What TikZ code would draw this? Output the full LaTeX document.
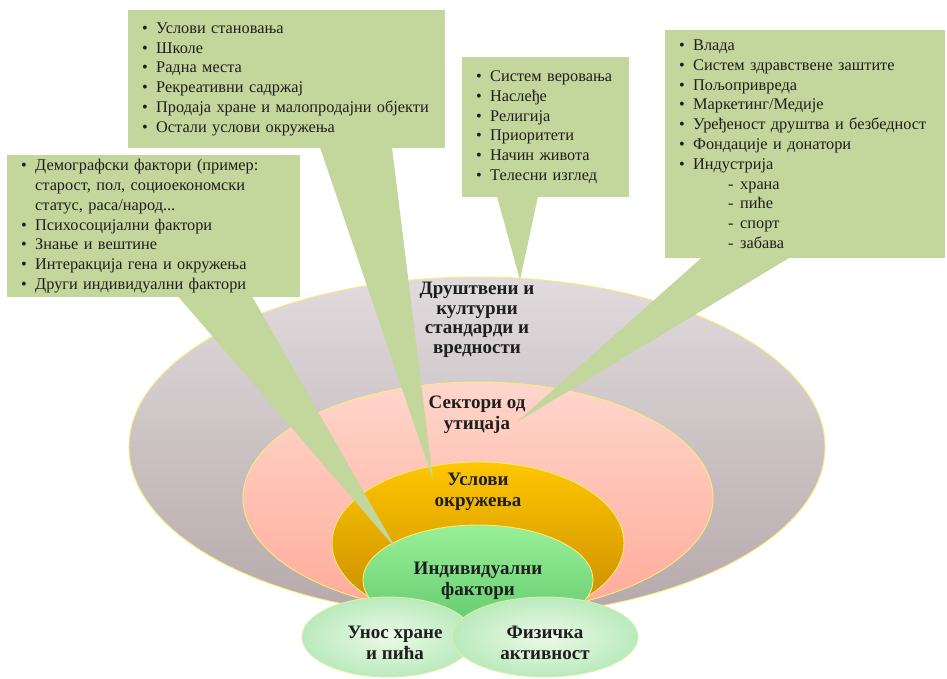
\documentclass[tikz,border=0pt]{standalone}
\usepackage{fontspec}
\setmainfont{Liberation Serif}
\usetikzlibrary{calc,shapes.geometric}

\definecolor{callgreen}{RGB}{195,214,155}
\definecolor{rimyellow}{RGB}{250,236,120}
\definecolor{grayTop}{RGB}{224,219,221}
\definecolor{grayBot}{RGB}{182,168,170}
\definecolor{pinkTop}{RGB}{255,214,204}
\definecolor{pinkBot}{RGB}{255,170,152}
\definecolor{orTop}{RGB}{255,198,0}
\definecolor{orBot}{RGB}{196,136,0}
\definecolor{grTop}{RGB}{152,240,152}
\definecolor{grBot}{RGB}{96,200,106}
\definecolor{mintIn}{RGB}{236,250,232}
\definecolor{mintOut}{RGB}{186,234,188}
\definecolor{mintRim}{RGB}{215,240,170}
\definecolor{inktext}{RGB}{30,30,30}

\newcommand{\bul}[1]{\makebox[14pt][l]{\textbullet}#1}
\newcommand{\cont}[1]{\hspace*{14pt}#1}
\newcommand{\sub}[1]{\hspace*{49pt}\makebox[12pt][l]{-}#1}

\begin{document}
\begin{tikzpicture}[x=1pt,y=-1pt,
  ring/.style={ellipse, inner sep=0pt, draw=rimyellow, line width=0.9pt},
  outcome/.style={ellipse, inner sep=0pt, draw=mintRim, line width=0.9pt,
    shading=radial, inner color=mintIn, outer color=mintOut},
  ringlabel/.style={align=center, text=inktext,
    font=\fontsize{19}{21.5}\selectfont\bfseries},
  callbox/.style={rectangle, fill=callgreen, anchor=north west, align=left,
    inner xsep=14pt, inner ysep=0pt, text=inktext,
    font=\fontsize{16.3}{19.8}\selectfont},
  tail/.style={fill=callgreen}
]
\useasboundingbox (0,0) rectangle (947,679);
\fill[white] (0,0) rectangle (947,679);

% nested rings of influence
\node[ring, minimum width=696pt, minimum height=340pt,
  top color=grayTop, bottom color=grayBot] (soc) at (477,447) {};
\node[ring, minimum width=470pt, minimum height=232pt,
  top color=pinkTop, bottom color=pinkBot] (sect) at (478,498) {};
\node[ring, minimum width=292pt, minimum height=162pt,
  top color=orTop, bottom color=orBot] (env) at (478,543) {};
\node[ring, minimum width=230pt, minimum height=110pt,
  top color=grTop, bottom color=grBot] (ind) at (478,580) {};

% behaviours at the base
\node[outcome, minimum width=172pt, minimum height=80pt] (food) at (388,637) {};
\node[outcome, minimum width=186pt, minimum height=80pt] (phys) at (545,637) {};

% callout boxes
\node[callbox, minimum width=293pt, minimum height=142pt, text width=265pt] (b1) at (7,155) {%
\bul{Демографски фактори (пример:}\\
\cont{старост, пол, социоекономски}\\
\cont{статус, раса/народ...}\\
\bul{Психосоцијални фактори}\\
\bul{Знање и вештине}\\
\bul{Интеракција гена и окружења}\\
\bul{Други индивидуални фактори}};

\node[callbox, minimum width=317pt, minimum height=138pt, text width=289pt] (b2) at (128,10) {%
\bul{Услови становања}\\
\bul{Школе}\\
\bul{Радна места}\\
\bul{Рекреативни садржај}\\
\bul{Продаја хране и малопродајни објекти}\\
\bul{Остали услови окружења}};

\node[callbox, minimum width=167pt, minimum height=140pt, text width=139pt] (b3) at (462,57) {%
\bul{Систем веровања}\\
\bul{Наслеђе}\\
\bul{Религија}\\
\bul{Приоритети}\\
\bul{Начин живота}\\
\bul{Телесни изглед}};

\node[callbox, minimum width=280pt, minimum height=228pt, text width=252pt] (b4) at (665,30) {%
\bul{Влада}\\
\bul{Систем здравствене заштите}\\
\bul{Пољопривреда}\\
\bul{Маркетинг/Медије}\\
\bul{Уређеност друштва и безбедност}\\
\bul{Фондације и донатори}\\
\bul{Индустрија}\\
\sub{храна}\\
\sub{пиће}\\
\sub{спорт}\\
\sub{забава}};

% pointer tips
\coordinate (p1) at (397,550);
\coordinate (p2) at (433,480);
\coordinate (p3) at (520,280);
\coordinate (p4) at (517,422);

% callout pointers
\fill[tail] ($(b1.south west)+(171,-1)$) -- ($(b1.south west)+(245,-1)$) -- (p1) -- cycle;
\fill[tail] ($(b2.south west)+(192,-1)$) -- ($(b2.south west)+(264,-1)$) -- (p2) -- cycle;
\fill[tail] ($(b3.south west)+(35,-1)$) -- ($(b3.south west)+(76,-1)$) -- (p3) -- cycle;
\fill[tail] ($(b4.south west)+(37,-1)$) -- ($(b4.south west)+(125,-1)$) -- (p4) -- cycle;

% ring labels
\node[ringlabel, font=\fontsize{19}{19.5}\selectfont\bfseries] (socL) at (477,320) {Друштвени и\\културни\\стандарди и\\вредности};
\node[ringlabel] (sectL) at (477,415) {Сектори од\\утицаја};
\node[ringlabel] (envL) at (478,492) {Услови\\окружења};
\node[ringlabel] (indL) at (478,581) {Индивидуални\\фактори};
\node[ringlabel] (foodL) at (395,643) {Унос хране\\и пића};
\node[ringlabel] (physL) at (545,643) {Физичка\\активност};
\end{tikzpicture}
\end{document}
